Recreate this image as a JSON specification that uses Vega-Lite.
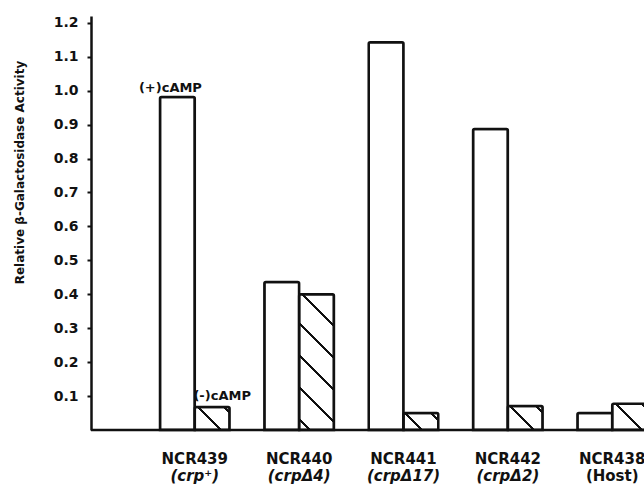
{
  "$schema": "https://vega.github.io/schema/vega-lite/v6.json",
  "width": 553,
  "height": 414,
  "autosize": {"type": "none"},
  "padding": {"left": 91, "top": 16, "right": 0, "bottom": 59},
  "background": "white",
  "config": {"view": {"stroke": null}, "font": "DejaVu Sans", "axis": {"labelOverlap": false}, "axisY": {"labelOverlap": false}},
  "datasets": {
    "bars": [
      {"strain": "NCR439", "cond": "+", "value": 0.981},
      {"strain": "NCR439", "cond": "-", "value": 0.068},
      {"strain": "NCR440", "cond": "+", "value": 0.436},
      {"strain": "NCR440", "cond": "-", "value": 0.40},
      {"strain": "NCR441", "cond": "+", "value": 1.143},
      {"strain": "NCR441", "cond": "-", "value": 0.05},
      {"strain": "NCR442", "cond": "+", "value": 0.887},
      {"strain": "NCR442", "cond": "-", "value": 0.071},
      {"strain": "NCR438", "cond": "+", "value": 0.05},
      {"strain": "NCR438", "cond": "-", "value": 0.077}
    ],
    "notes": [
      {"strain": "NCR439", "cond": "+", "value": 0.981, "label": "(+)cAMP"},
      {"strain": "NCR439", "cond": "-", "value": 0.068, "label": "(-)cAMP"}
    ]
  },
  "resolve": {"axis": {"x": "independent"}},
  "layer": [
    {
      "data": {"name": "bars"},
      "mark": {"type": "bar", "stroke": "#111", "strokeWidth": 2.5, "cornerRadiusTopLeft": 1.5, "cornerRadiusTopRight": 1.5},
      "encoding": {
        "x": {
          "field": "strain", "type": "nominal",
          "sort": ["NCR439", "NCR440", "NCR441", "NCR442", "NCR438"],
          "scale": {"range": [69, 556], "paddingInner": 0.3333, "paddingOuter": 0},
          "axis": {
            "orient": "bottom", "title": null, "domain": false, "ticks": false, "tickSize": 0,
            "labelAngle": 0, "labelFont": "DejaVu Sans", "labelFontSize": 15, "labelFontWeight": "bold",
            "labelColor": "#111", "labelPadding": 21, "labelOverlap": false
          }
        },
        "xOffset": {"field": "cond", "type": "nominal", "sort": ["+", "-"], "scale": {"paddingInner": 0, "paddingOuter": 0}},
        "y": {
          "field": "value", "type": "quantitative",
          "scale": {"domain": [0, 1.22], "nice": false},
          "axis": {
            "values": [0.1, 0.2, 0.3, 0.4, 0.5, 0.6, 0.7, 0.8, 0.9, 1.0, 1.1, 1.2],
            "format": ".1f", "grid": false, "labelOverlap": false, "tickCount": 12,
            "labelFont": "DejaVu Sans", "labelFontWeight": "bold", "labelFontSize": 14, "labelColor": "#111",
            "labelPadding": 9, "tickSize": 4, "tickWidth": 2, "tickColor": "#111",
            "domainWidth": 2.5, "domainColor": "#111",
            "title": "Relative β-Galactosidase Activity",
            "titleFont": "DejaVu Sans", "titleFontSize": 12, "titleFontWeight": "bold", "titleColor": "#111",
            "titleX": -72, "titleY": 156, "titleAngle": -90, "titleAlign": "center", "titleBaseline": "middle"
          }
        },
        "fill": {
          "condition": [
            {"test": "datum.strain == 'NCR439' && datum.cond == '-'", "value": {"gradient": "linear", "x1": 0, "y1": 1, "x2": 1.1552, "y2": 0.2342, "stops": [
              {"offset": 0, "color": "white"}, {"offset": 0.4246, "color": "white"}, {"offset": 0.4246, "color": "#111"}, {"offset": 0.4764, "color": "#111"}, {"offset": 0.4764, "color": "white"},
              {"offset": 0.8739, "color": "white"}, {"offset": 0.8739, "color": "#111"}, {"offset": 0.9257, "color": "#111"}, {"offset": 0.9257, "color": "white"}, {"offset": 1, "color": "white"}]}},
            {"test": "datum.strain == 'NCR440' && datum.cond == '-'", "value": {"gradient": "linear", "x1": 0, "y1": 1, "x2": 0.3023, "y2": -0.1789, "stops": [
              {"offset": 0, "color": "white"}, {"offset": 0.0540, "color": "white"}, {"offset": 0.0540, "color": "#111"}, {"offset": 0.0716, "color": "#111"}, {"offset": 0.0716, "color": "white"},
              {"offset": 0.2416, "color": "white"}, {"offset": 0.2416, "color": "#111"}, {"offset": 0.2592, "color": "#111"}, {"offset": 0.2592, "color": "white"},
              {"offset": 0.4293, "color": "white"}, {"offset": 0.4293, "color": "#111"}, {"offset": 0.4469, "color": "#111"}, {"offset": 0.4469, "color": "white"},
              {"offset": 0.6170, "color": "white"}, {"offset": 0.6170, "color": "#111"}, {"offset": 0.6346, "color": "#111"}, {"offset": 0.6346, "color": "white"},
              {"offset": 0.8047, "color": "white"}, {"offset": 0.8047, "color": "#111"}, {"offset": 0.8223, "color": "#111"}, {"offset": 0.8223, "color": "white"}, {"offset": 1, "color": "white"}]}},
            {"test": "datum.strain == 'NCR441' && datum.cond == '-'", "value": {"gradient": "linear", "x1": 0, "y1": 1, "x2": 1.2019, "y2": 0.4139, "stops": [
              {"offset": 0, "color": "white"}, {"offset": 0.3375, "color": "white"}, {"offset": 0.3375, "color": "#111"}, {"offset": 0.3954, "color": "#111"}, {"offset": 0.3954, "color": "white"},
              {"offset": 0.8397, "color": "white"}, {"offset": 0.8397, "color": "#111"}, {"offset": 0.8976, "color": "#111"}, {"offset": 0.8976, "color": "white"}, {"offset": 1, "color": "white"}]}},
            {"test": "datum.strain == 'NCR442' && datum.cond == '-'", "value": {"gradient": "linear", "x1": 0, "y1": 1, "x2": 1.1441, "y2": 0.2080, "stops": [
              {"offset": 0, "color": "white"}, {"offset": 0.4176, "color": "white"}, {"offset": 0.4176, "color": "#111"}, {"offset": 0.4685, "color": "#111"}, {"offset": 0.4685, "color": "white"},
              {"offset": 0.8591, "color": "white"}, {"offset": 0.8591, "color": "#111"}, {"offset": 0.9100, "color": "#111"}, {"offset": 0.9100, "color": "white"}, {"offset": 1, "color": "white"}]}},
            {"test": "datum.strain == 'NCR438' && datum.cond == '-'", "value": {"gradient": "linear", "x1": 0, "y1": 1, "x2": 1.1196, "y2": 0.1593, "stops": [
              {"offset": 0, "color": "white"}, {"offset": 0.4699, "color": "white"}, {"offset": 0.4699, "color": "#111"}, {"offset": 0.5191, "color": "#111"}, {"offset": 0.5191, "color": "white"},
              {"offset": 0.8966, "color": "white"}, {"offset": 0.8966, "color": "#111"}, {"offset": 0.9458, "color": "#111"}, {"offset": 0.9458, "color": "white"}, {"offset": 1, "color": "white"}]}}
          ],
          "value": "white"
        }
      }
    },
    {
      "data": {"values": [{}]},
      "mark": {"type": "rule", "stroke": "#111", "strokeWidth": 2.5},
      "encoding": {"y": {"datum": 0}}
    },
    {
      "data": {"name": "notes"},
      "transform": [{"filter": "datum.cond == '+'"}],
      "mark": {"type": "text", "font": "DejaVu Sans", "fontWeight": "bold", "fontSize": 13, "baseline": "alphabetic", "dx": -7, "dy": -5, "color": "#111"},
      "encoding": {
        "x": {
          "field": "strain", "type": "nominal",
          "sort": ["NCR439", "NCR440", "NCR441", "NCR442", "NCR438"],
          "scale": {"range": [69, 556], "paddingInner": 0.3333, "paddingOuter": 0},
          "axis": {
            "orient": "bottom", "title": null, "domain": false, "ticks": false, "tickSize": 0,
            "labelAngle": 0, "labelFont": "DejaVu Sans", "labelFontSize": 15, "labelFontWeight": "bold",
            "labelColor": "#111", "labelPadding": 38, "labelOverlap": false,
            "labelExpr": "datum.value == 'NCR439' ? '(crp⁺)' : datum.value == 'NCR440' ? '(crpΔ4)' : datum.value == 'NCR441' ? '(crpΔ17)' : datum.value == 'NCR442' ? '(crpΔ2)' : '(Host)'",
            "labelFontStyle": {"condition": {"test": "datum.value == 'NCR438'", "value": "normal"}, "value": "italic"}
          }
        },
        "xOffset": {"field": "cond", "type": "nominal", "sort": ["+", "-"]},
        "y": {"field": "value", "type": "quantitative", "scale": {"domain": [0, 1.22], "nice": false}},
        "text": {"field": "label"}
      }
    },
    {
      "data": {"name": "notes"},
      "transform": [{"filter": "datum.cond == '-'"}],
      "mark": {"type": "text", "font": "DejaVu Sans", "fontWeight": "bold", "fontSize": 13, "baseline": "alphabetic", "dx": 10, "dy": -7, "color": "#111"},
      "encoding": {
        "x": {
          "field": "strain", "type": "nominal",
          "sort": ["NCR439", "NCR440", "NCR441", "NCR442", "NCR438"],
          "scale": {"range": [69, 556], "paddingInner": 0.3333, "paddingOuter": 0},
          "axis": null
        },
        "xOffset": {"field": "cond", "type": "nominal", "sort": ["+", "-"]},
        "y": {"field": "value", "type": "quantitative", "scale": {"domain": [0, 1.22], "nice": false}},
        "text": {"field": "label"}
      }
    }
  ]
}
